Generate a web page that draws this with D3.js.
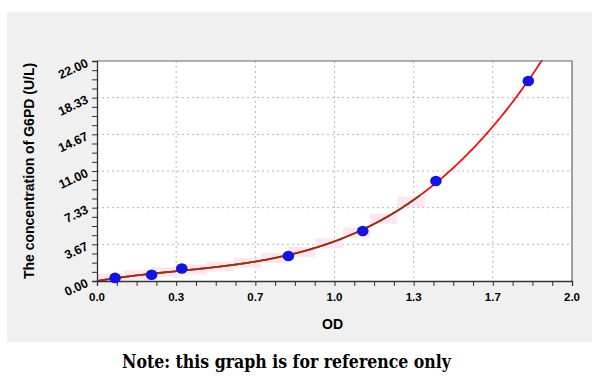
<!DOCTYPE html>
<html><head><meta charset="utf-8">
<script src="https://cdn.jsdelivr.net/npm/d3@7"></script>
<style>body{margin:0;background:#fff}svg{display:block}</style>
</head><body>
<svg id="c" width="600" height="383"></svg>
<script>
const odValues   = [0.076, 0.23, 0.357, 0.806, 1.119, 1.427, 1.816];
const concValues = [0.31, 0.63, 1.25, 2.5, 5, 10, 20];
const xTickValues = [0, 1/3, 2/3, 1, 4/3, 5/3, 2];
const xTickLabels = ["0.0","0.3","0.7","1.0","1.3","1.7","2.0"];
const yTickValues = [0, 22/6, 44/6, 11, 88/6, 110/6, 22];
const yTickLabels = ["0.00","3.67","7.33","11.00","14.67","18.33","22.00"];
const xTitle = "OD";
const yTitle = "The concentration of G6PD (U/L)";
const note = "Note: this graph is for reference only";

const svg = d3.select("#c");
const L=97, R=572, T=61, B=281;
const x = d3.scaleLinear().domain([0,2]).range([L,R]);
const y = d3.scaleLinear().domain([0,22]).range([B,T]);

svg.append("rect").attr("x",7).attr("y",12).attr("width",585).attr("height",330).attr("fill","#f0f0f0");
svg.append("rect").attr("x",L).attr("y",T).attr("width",R-L).attr("height",B-T).attr("fill","#fff");

// grid
const g = svg.append("g");
g.selectAll(".gx").data(xTickValues.slice(1,-1)).join("line")
  .attr("x1",d=>x(d)).attr("x2",d=>x(d)).attr("y1",T).attr("y2",B)
  .attr("stroke","#b8b8b8").attr("stroke-dasharray","2,3");
g.selectAll(".gy").data(yTickValues.slice(1,-1)).join("line")
  .attr("y1",d=>y(d)).attr("y2",d=>y(d)).attr("x1",L).attr("x2",R)
  .attr("stroke","#b8b8b8").attr("stroke-dasharray","2,3");

// least squares fit y = a x + b x^2 + c x^3 (through origin)
function polyfit(xs, ys, powers){
  const n=powers.length, A=[...Array(n)].map(()=>Array(n+1).fill(0));
  xs.forEach((xi,k)=>{for(let i=0;i<n;i++){for(let j=0;j<n;j++)A[i][j]+=Math.pow(xi,powers[i]+powers[j]);A[i][n]+=ys[k]*Math.pow(xi,powers[i]);}});
  for(let i=0;i<n;i++){let p=i;for(let r=i+1;r<n;r++)if(Math.abs(A[r][i])>Math.abs(A[p][i]))p=r;[A[i],A[p]]=[A[p],A[i]];
    for(let r=0;r<n;r++){if(r===i)continue;const f=A[r][i]/A[i][i];for(let c=i;c<=n;c++)A[r][c]-=f*A[i][c];}}
  return A.map((row,i)=>row[n]/row[i]);
}
const powers=[1,2,3];
const coef = polyfit(odValues, concValues, powers);
const f = t => coef.reduce((s,c,i)=>s+c*Math.pow(t,powers[i]),0);
const samples = d3.range(0, 2.0001, 0.005).map(t=>[t,f(t)]).filter(d=>d[1]<=22.3);

// pink band (stepped, centred on the curve)
const step=0.115;
const bandPts = d3.range(0, 1.40, step).map(t=>[t,f(t+step/2)]);
svg.append("path").datum(bandPts)
  .attr("d", d3.area().curve(d3.curveStepAfter).x(d=>x(d[0])).y0(d=>y(d[1])+5).y1(d=>y(d[1])-5))
  .attr("fill","#fde6f4");

const clip = svg.append("clipPath").attr("id","cp").append("rect").attr("x",L).attr("y",T-1).attr("width",R-L).attr("height",B-T+1);
const line = d3.line().x(d=>x(d[0])).y(d=>y(d[1]));
svg.append("path").datum(samples).attr("d",line).attr("fill","none").attr("stroke","#ee1111").attr("stroke-width",1.8).attr("clip-path","url(#cp)");
svg.append("path").datum(samples.filter(d=>d[0]<=1.36)).attr("d",line).attr("fill","none").attr("stroke","#8b3a10").attr("stroke-width",1.8).attr("clip-path","url(#cp)");

// frame
svg.append("path").attr("d",`M${L},${T}H${R}V${B}`).attr("fill","none").attr("stroke","#666").attr("stroke-width",1.2);

// axes
const xAxis = d3.axisBottom(x).tickValues(d3.range(0,2.0001,1/12)).tickSize(5).tickFormat("");
const ax = svg.append("g").attr("transform",`translate(0,${B})`).call(xAxis);
ax.select(".domain").attr("stroke","#333").attr("stroke-width",1.3);
ax.selectAll(".tick line").attr("stroke","#333");
const yAxis = d3.axisLeft(y).tickValues(d3.range(0,22.0001,22/24)).tickSize(5).tickFormat("");
const ay = svg.append("g").attr("transform",`translate(${L},0)`).call(yAxis);
ay.select(".domain").attr("stroke","#333").attr("stroke-width",1.3);
ay.selectAll(".tick line").attr("stroke","#333");

svg.selectAll(".xl").data(xTickValues).join("text")
  .attr("x",d=>x(d)).attr("y",B+20).attr("text-anchor","middle")
  .attr("font-family","Liberation Sans, Arial, sans-serif").attr("font-weight","bold").attr("font-size",11.5)
  .text((d,i)=>xTickLabels[i]);
svg.selectAll(".yl").data(yTickValues).join("text")
  .attr("transform",d=>`translate(${L-8},${y(d)+5}) rotate(-25)`).attr("text-anchor","end")
  .attr("font-family","Liberation Sans, Arial, sans-serif").attr("font-weight","bold").attr("font-size",12.5)
  .text((d,i)=>yTickLabels[i]);

// points
svg.selectAll(".pt").data(odValues).join("ellipse")
  .attr("cx",(d)=>x(d)).attr("cy",(d,i)=>y(concValues[i])).attr("rx",5.8).attr("ry",5.3)
  .attr("fill","#1414e0");

svg.append("text").attr("x",(L+R)/2-2).attr("y",329).attr("text-anchor","middle")
  .attr("font-family","Liberation Sans, Arial, sans-serif").attr("font-weight","bold").attr("font-size",14).text(xTitle);
svg.append("text").attr("transform",`translate(34,171) rotate(-90)`).attr("text-anchor","middle")
  .attr("font-family","Liberation Sans, Arial, sans-serif").attr("font-weight","bold").attr("font-size",14).text(yTitle);
svg.append("text").attr("x",122).attr("y",368)
  .attr("font-family","DejaVu Serif, serif").attr("font-weight","bold").attr("font-size",18)
  .attr("textLength",329).attr("lengthAdjust","spacingAndGlyphs").text(note);
</script>
</body></html>
